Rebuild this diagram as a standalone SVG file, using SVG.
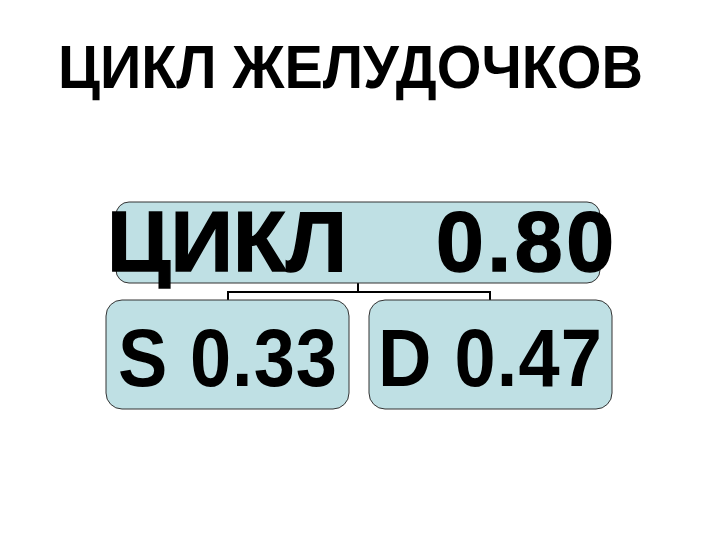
<svg xmlns="http://www.w3.org/2000/svg" width="720" height="540" viewBox="0 0 720 540">
<style>
.box{fill:#bfe0e4;stroke:#333;stroke-width:1}
.t{font-family:"Liberation Sans",Arial,sans-serif;fill:#000}
.b{font-weight:bold}
.heavy{stroke:#000;stroke-width:1.5}
.conn{fill:none;stroke:#000;stroke-width:2}
</style>
<rect width="720" height="540" fill="#fff"/>
<text class="t b" x="58" y="88" font-size="62" textLength="585" lengthAdjust="spacingAndGlyphs">ЦИКЛ ЖЕЛУДОЧКОВ</text>
<g id="connectors">
<path class="conn" d="M358,283 V292 M228,300 V292 H490 V300"/>
</g>
<g id="node-cycle">
<rect class="box" x="116" y="202" width="484" height="81" rx="13"/>
<text class="t b heavy" x="107" y="271" font-size="86" textLength="240" lengthAdjust="spacingAndGlyphs">ЦИКЛ</text>
<text class="t b heavy" x="436" y="271" font-size="86" textLength="178" lengthAdjust="spacing">0.80</text>
</g>
<g id="node-s">
<rect class="box" x="106" y="300" width="243" height="109" rx="16"/>
<text class="t b" transform="translate(118,386) scale(1,1.11)" font-size="74" textLength="219" lengthAdjust="spacing">S 0.33</text>
</g>
<g id="node-d">
<rect class="box" x="369" y="300" width="243" height="109" rx="16"/>
<text class="t b" transform="translate(378,386) scale(1,1.11)" font-size="74" textLength="224" lengthAdjust="spacing">D 0.47</text>
</g>
</svg>
